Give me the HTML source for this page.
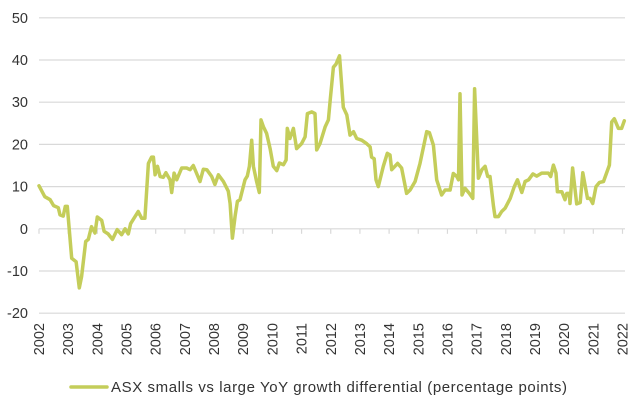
<!DOCTYPE html>
<html><head><meta charset="utf-8"><style>
html,body{margin:0;padding:0;background:#fff;}
svg{display:block;font-family:"Liberation Sans",sans-serif;}
</style></head><body>
<svg id="chart" width="640" height="403" viewBox="0 0 640 403">
<g id="grid"></g>
<g id="yaxis"></g>
<g id="xaxis"></g>
<path id="series" fill="none" stroke="#c4cd5a" stroke-width="3.5" stroke-linejoin="round" stroke-linecap="round"></path>
<g>
<line x1="71" y1="387" x2="107" y2="387" stroke="#c4cd5a" stroke-width="3.5" stroke-linecap="round"/>
<text x="111" y="392" font-size="15" fill="#333" textLength="456" lengthAdjust="spacing">ASX smalls vs large YoY growth differential (percentage points)</text>
</g>
</svg>
<script>
const yTicks=[50,40,30,20,10,0,-10,-20];
const xYears=[2002,2003,2004,2005,2006,2007,2008,2009,2010,2011,2012,2013,2014,2015,2016,2017,2018,2019,2020,2021,2022];
const dates=[2002.0,2002.2,2002.38,2002.5,2002.66,2002.72,2002.83,2002.9,2002.97,2003.12,2003.27,2003.38,2003.46,2003.6,2003.69,2003.8,2003.92,2004.0,2004.15,2004.23,2004.37,2004.52,2004.68,2004.83,2004.95,2005.06,2005.14,2005.4,2005.52,2005.63,2005.75,2005.86,2005.92,2005.98,2006.06,2006.15,2006.26,2006.35,2006.49,2006.55,2006.63,2006.72,2006.89,2007.06,2007.18,2007.29,2007.52,2007.63,2007.75,2007.92,2008.03,2008.15,2008.32,2008.49,2008.55,2008.63,2008.72,2008.8,2008.89,2009.06,2009.14,2009.21,2009.29,2009.35,2009.46,2009.55,2009.61,2009.69,2009.8,2009.92,2010.03,2010.15,2010.24,2010.38,2010.47,2010.51,2010.6,2010.72,2010.83,2011.0,2011.12,2011.2,2011.35,2011.46,2011.52,2011.63,2011.81,2011.92,2011.98,2012.09,2012.18,2012.3,2012.43,2012.55,2012.66,2012.78,2012.89,2013.06,2013.23,2013.35,2013.4,2013.49,2013.55,2013.63,2013.8,2013.94,2014.03,2014.09,2014.29,2014.43,2014.6,2014.72,2014.89,2015.06,2015.18,2015.29,2015.38,2015.52,2015.63,2015.8,2015.92,2016.09,2016.2,2016.32,2016.38,2016.43,2016.5,2016.6,2016.75,2016.87,2016.93,2017.06,2017.18,2017.29,2017.38,2017.46,2017.58,2017.63,2017.75,2017.86,2017.98,2018.15,2018.29,2018.4,2018.55,2018.66,2018.78,2018.93,2019.06,2019.23,2019.46,2019.54,2019.63,2019.72,2019.77,2019.92,2020.03,2020.09,2020.18,2020.2,2020.29,2020.43,2020.55,2020.64,2020.8,2020.89,2020.98,2021.09,2021.21,2021.35,2021.55,2021.63,2021.72,2021.86,2021.97,2022.06];
const values=[10.2,7.6,6.9,5.5,5,3.3,3,5.3,5.3,-7,-7.8,-14,-11.3,-3,-2.5,0.5,-1,2.8,2,-0.6,-1.2,-2.5,-0.2,-1.4,0,-1.2,1.2,4.1,2.5,2.5,15.5,17,17,12.8,14.8,12.4,12.2,13.3,11.6,8.6,13.2,11.6,14.4,14.4,14,15,11.2,14.1,14,12.4,10.5,12.8,11.2,8.9,6,-2.2,3,6.5,6.9,11.6,12.5,14.8,21,14.8,11.2,8.6,25.8,24.2,22.6,19,14.8,13.8,15.6,15.2,16.3,23.8,21.4,23.8,19,20.2,21.8,27.3,27.7,27.3,18.7,20.2,24.2,25.8,30.5,38.3,39,41,28.8,27,22.2,23,21.4,21,20.2,19.4,17,16.6,11.6,10,14.8,17.9,17.5,14,15.5,14.4,8.4,9.2,11.2,15.5,19.4,23,22.8,19.8,11.6,8,9.2,9.2,13.1,12.4,11.6,32,8,9.6,8.4,7.2,33.2,12,14,14.8,12.4,12.4,5.3,2.9,2.9,4.1,4.9,7.2,10,11.6,8.6,11.2,11.6,13,12.5,13.2,13.2,12.4,15.1,13.2,8.8,8.8,6.9,8.4,8.4,6,14.4,5.9,6.2,13.3,7.2,7.2,6,10,11,11.2,15.1,25.3,26.1,23.8,23.8,25.6];

const NS="http://www.w3.org/2000/svg";
const x0=39,x1=622.5,yr0=2002,yr1=2022;
const y0=228.8,pxPerUnit=4.22;
function xs(t){return x0+(t-yr0)*(x1-x0)/(yr1-yr0);}
function ys(v){return y0-v*pxPerUnit;}
const grid=document.getElementById('grid'),yax=document.getElementById('yaxis'),xax=document.getElementById('xaxis');
yTicks.forEach(v=>{
  const l=document.createElementNS(NS,'line');
  
  
  l.setAttribute('x1',x0);l.setAttribute('x2',625);
  l.setAttribute('y1',ys(v));l.setAttribute('y2',ys(v));
  l.setAttribute('stroke','#d9d9d9');l.setAttribute('stroke-width','1.2');
  grid.appendChild(l);
  const t=document.createElementNS(NS,'text');
  
  
  t.setAttribute('x',28);t.setAttribute('y',ys(v)+5);
  t.setAttribute('text-anchor','end');t.setAttribute('font-size','14.5');t.setAttribute('fill','#333');
  t.textContent=v;yax.appendChild(t);
});
xYears.forEach(yv=>{
  const x=xs(yv);
  const tk=document.createElementNS(NS,'line');
  
  
  tk.setAttribute('x1',x);tk.setAttribute('x2',x);tk.setAttribute('y1',y0);tk.setAttribute('y2',y0+5);
  tk.setAttribute('stroke','#d9d9d9');tk.setAttribute('stroke-width','1.2');
  xax.appendChild(tk);
  const t=document.createElementNS(NS,'text');
  
  
  t.setAttribute('transform','translate('+(x+5)+',323) rotate(-90)');
  t.setAttribute('text-anchor','end');t.setAttribute('font-size','14.5');t.setAttribute('fill','#333');
  t.textContent=yv;xax.appendChild(t);
});
let d='';
dates.forEach((t,i)=>{d+=(i?'L':'M')+xs(t).toFixed(1)+','+ys(values[i]).toFixed(1);});
document.getElementById('series').setAttribute('d',d);
</script>
</body></html>
